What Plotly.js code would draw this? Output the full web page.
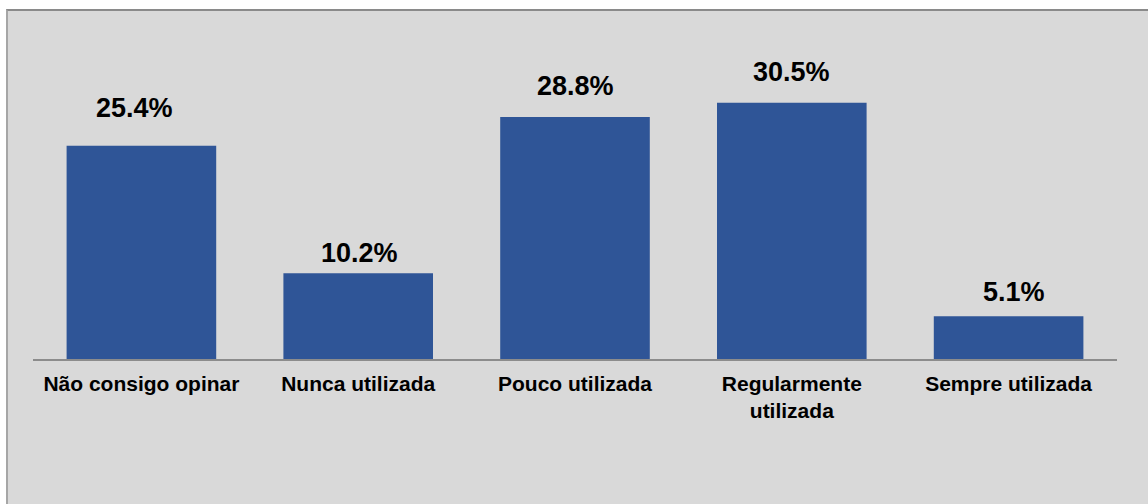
<!DOCTYPE html>
<html>
<head>
<meta charset="utf-8">
<script src="https://cdn.plot.ly/plotly-3.0.1.min.js"></script>
<style>
  html, body { margin: 0; padding: 0; background: #ffffff; width: 1148px; height: 504px; overflow: hidden; }
  #chart { position: absolute; left: 6px; top: 9px; width: 1140px; height: 493px;
           border-top: 2px solid #8a8a8a; border-left: 2px solid #a6a6a6; }
</style>
</head>
<body>
<div id="chart"></div>
<script>
const categories = ["Não consigo opinar", "Nunca utilizada", "Pouco utilizada", "Regularmente<br>utilizada", "Sempre utilizada"];
const values = [25.4, 10.2, 28.8, 30.5, 5.1];
const valueLabels = ["25.4%", "10.2%", "28.8%", "30.5%", "5.1%"];

// label placement tweaks (pixels), as in the original's manually placed labels
const labelShiftX = [-7, 1, 0, 0, 5];
const labelShiftY = [21, 3, 14, 14, 7];

const trace = {
  type: "bar",
  x: categories,
  y: values,
  marker: { color: "#2F5597" },
  width: 0.69,
  hoverinfo: "skip"
};

const annotations = categories.map((c, i) => ({
  x: c, y: values[i], xref: "x", yref: "y",
  text: "<b>" + valueLabels[i] + "</b>",
  showarrow: false, yanchor: "bottom",
  yshift: labelShiftY[i], xshift: labelShiftX[i],
  font: { family: "Liberation Sans, Arial, sans-serif", size: 27, color: "#000000" }
}));

const layout = {
  width: 1140, height: 493,
  margin: { l: 25, r: 31, t: 12, b: 145 },
  paper_bgcolor: "#d9d9d9",
  plot_bgcolor: "#d9d9d9",
  showlegend: false,
  xaxis: {
    type: "category",
    showline: true, linecolor: "#8c8c8c", linewidth: 1.5,
    ticks: "", showgrid: false, zeroline: false,
    ticklabelstandoff: 5,
    tickfont: { family: "Liberation Sans, Arial, sans-serif", size: 21, color: "#000000", weight: "bold" },
    fixedrange: true
  },
  yaxis: {
    range: [0, 40], visible: false, showgrid: false, zeroline: false, fixedrange: true
  },
  annotations: annotations
};

Plotly.newPlot("chart", [trace], layout, { displayModeBar: false, staticPlot: true });
</script>
</body>
</html>
